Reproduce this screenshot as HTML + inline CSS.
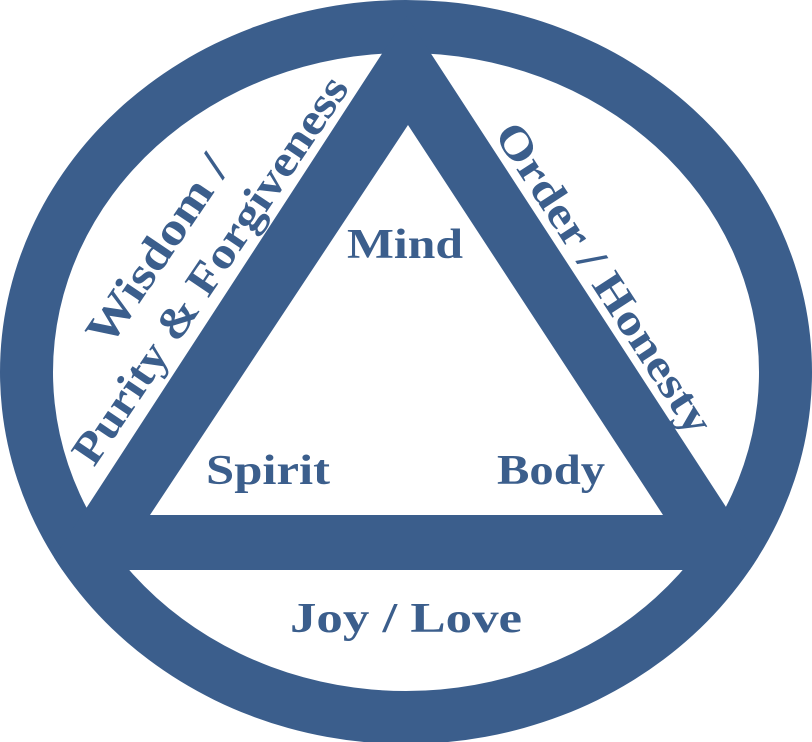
<!DOCTYPE html>
<html><head><style>html,body{margin:0;padding:0;background:#fff}svg{display:block}</style></head>
<body>
<svg width="812" height="742" viewBox="0 0 812 742" xmlns="http://www.w3.org/2000/svg">
<defs><clipPath id="c"><ellipse cx="406" cy="372" rx="406" ry="372"/></clipPath></defs>
<g fill="#3b5e8c">
<path fill-rule="evenodd" d="M0,372 A406,372 0 1,0 812,372 A406,372 0 1,0 0,372 Z M53,372 A353,319 0 1,1 759,372 A353,319 0 1,1 53,372 Z"/>
<path clip-path="url(#c)" fill-rule="evenodd" d="M406.5,16 L767,570 L46,570 Z M408,125 L663,515 L150,515 Z"/>
</g>
<g fill="#3b5e8c" font-family="'Liberation Serif',serif" font-weight="bold" font-size="42" text-anchor="middle">
<text x="405" y="258" textLength="116" lengthAdjust="spacingAndGlyphs">Mind</text>
<text x="268" y="484" textLength="124" lengthAdjust="spacingAndGlyphs">Spirit</text>
<text x="551" y="484" textLength="108" lengthAdjust="spacingAndGlyphs">Body</text>
<text x="406" y="632" textLength="232" lengthAdjust="spacingAndGlyphs">Joy / Love</text>
<text font-size="46" transform="translate(170,258) rotate(-56)" textLength="218" lengthAdjust="spacingAndGlyphs">Wisdom /</text>
<text font-size="44" transform="translate(222,278) rotate(-56)" textLength="458" lengthAdjust="spacingAndGlyphs">Purity &amp; Forgiveness</text>
<text font-size="44" transform="translate(592,286) rotate(57)" textLength="362" lengthAdjust="spacingAndGlyphs">Order / Honesty</text>
</g>
</svg>
</body></html>
